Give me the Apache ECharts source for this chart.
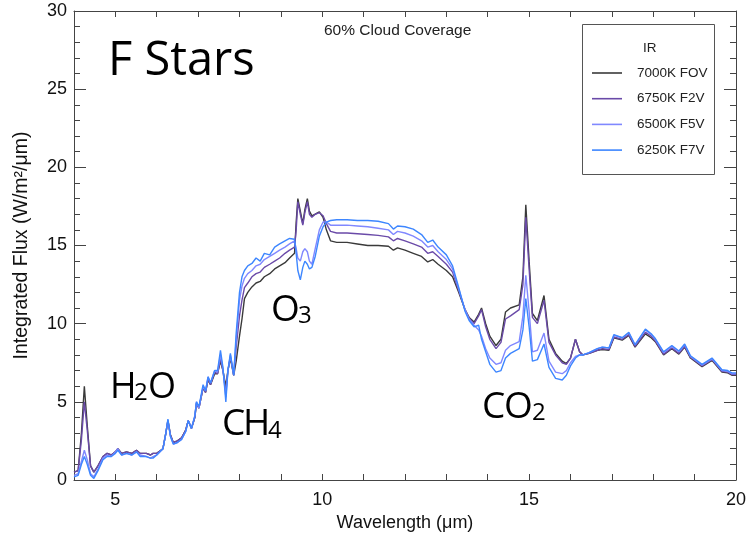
<!DOCTYPE html>
<html><head><meta charset="utf-8">
<script src="https://cdn.jsdelivr.net/npm/echarts@6/dist/echarts.min.js"></script>
<style>html,body{margin:0;padding:0;background:#fff}#c{width:749px;height:541px}</style>
</head><body><div id="c"></div>
<script>
// Wavelength (μm)
const wavelength = [
 4.00,4.10,4.18,4.25,4.32,4.40,4.48,4.58,4.70,4.80,
 4.90,5.00,5.06,5.15,5.27,5.40,5.51,5.60,5.75,5.85,
 5.91,6.00,6.15,6.22,6.27,6.33,6.40,6.50,6.60,6.70,
 6.76,6.84,6.92,6.96,7.02,7.12,7.18,7.24,7.30,7.40,
 7.47,7.54,7.60,7.67,7.72,7.78,7.86,7.92,8.00,8.06,
 8.12,8.20,8.30,8.40,8.50,8.60,8.73,8.85,8.97,9.10,
 9.21,9.33,9.37,9.41,9.47,9.53,9.58,9.64,9.69,9.75,
 9.83,9.93,10.02,10.10,10.20,10.35,10.60,10.85,11.10,11.35,
 11.60,11.72,11.82,12.00,12.20,12.40,12.55,12.67,12.80,13.00,
 13.15,13.30,13.45,13.55,13.67,13.78,13.85,13.95,14.05,14.20,
 14.32,14.43,14.55,14.76,14.85,14.92,15.00,15.08,15.20,15.36,
 15.48,15.64,15.80,15.90,16.00,16.12,16.22,16.30,16.45,16.65,
 16.77,16.93,17.05,17.25,17.41,17.56,17.81,17.95,18.05,18.25,
 18.45,18.62,18.76,18.90,19.18,19.42,19.66,19.80,19.90,20.00];
const flux7000 = [
 0.5,0.6,3.0,6.0,3.5,0.9,0.5,0.9,1.5,1.7,
 1.6,1.8,2.0,1.7,1.8,1.7,1.9,1.7,1.7,1.6,
 1.7,1.7,2.0,3.0,3.8,2.9,2.4,2.5,2.7,3.2,
 3.8,3.3,4.0,4.9,4.6,5.9,5.6,6.4,6.1,6.8,
 6.8,7.6,7.0,6.0,7.0,7.8,6.7,7.6,9.2,10.3,
 11.6,12.0,12.35,12.6,12.7,13.0,13.2,13.5,13.7,13.9,
 14.2,14.5,16.5,18.0,17.2,16.4,17.3,18.0,17.2,16.9,
 17.0,17.15,16.8,16.0,15.3,15.2,15.2,15.1,15.0,15.0,
 14.95,14.7,14.85,14.7,14.5,14.3,13.95,14.1,13.8,13.4,
 13.0,12.0,10.9,10.4,10.1,10.6,11.0,10.0,9.2,8.6,
 9.0,10.75,11.0,11.2,13.0,17.6,14.0,10.65,10.2,11.8,
 9.0,8.1,7.6,7.45,7.8,9.0,8.2,8.0,8.1,8.3,
 8.35,8.3,9.1,8.95,9.25,8.5,9.35,9.1,8.85,8.0,
 8.4,8.05,8.5,7.8,7.25,7.65,6.9,6.85,6.7,6.7];
const flux6750 = [
 0.5,0.6,2.6,5.0,3.2,0.9,0.5,0.9,1.5,1.7,
 1.6,1.8,2.0,1.7,1.8,1.7,1.9,1.7,1.7,1.6,
 1.7,1.7,2.0,3.0,3.8,2.9,2.4,2.5,2.7,3.2,
 3.8,3.3,4.0,4.9,4.6,5.9,5.6,6.5,6.1,6.9,
 6.8,7.8,7.0,5.6,7.0,7.9,6.7,8.5,10.5,11.5,
 12.3,12.6,13.0,13.2,13.3,13.6,13.8,14.0,14.2,14.5,
 14.7,14.9,16.0,17.8,17.0,16.3,17.1,17.8,17.0,16.8,
 17.0,17.1,16.9,16.4,15.9,15.8,15.8,15.75,15.7,15.65,
 15.55,15.3,15.45,15.3,15.1,14.9,14.5,14.6,14.3,13.8,
 13.3,12.1,10.9,10.35,10.0,10.5,10.9,9.8,9.0,8.4,
 8.8,10.3,10.5,10.9,12.5,16.8,13.5,10.4,10.0,11.5,
 8.8,8.0,7.5,7.4,7.8,9.0,8.2,8.0,8.1,8.3,
 8.4,8.35,9.15,9.0,9.3,8.55,9.45,9.2,8.9,8.05,
 8.45,8.1,8.55,7.85,7.3,7.7,6.95,6.9,6.75,6.75];
const flux6500 = [
 0.3,0.4,1.2,1.9,1.3,0.4,0.2,0.7,1.4,1.6,
 1.5,1.8,2.0,1.6,1.7,1.6,1.8,1.6,1.5,1.4,
 1.5,1.6,2.0,3.0,3.8,2.8,2.3,2.4,2.6,3.1,
 3.8,3.3,4.1,5.0,4.6,6.0,5.7,6.6,6.2,7.0,
 6.9,8.0,7.1,5.3,7.0,8.0,6.7,9.0,11.5,12.4,
 12.9,13.2,13.4,13.7,13.8,14.1,14.3,14.5,14.7,14.9,
 15.1,15.3,14.8,14.2,14.0,14.6,14.8,14.6,14.0,13.8,
 14.8,16.0,16.5,16.5,16.3,16.3,16.3,16.25,16.2,16.1,
 16.0,15.7,15.9,15.8,15.6,15.3,14.9,15.0,14.6,14.1,
 13.5,12.2,10.9,10.3,9.9,9.6,9.2,8.4,7.8,7.4,
 7.5,8.3,8.6,8.85,10.5,13.1,10.8,8.2,8.3,9.4,
 7.6,6.9,6.8,7.0,7.5,7.9,8.0,8.0,8.15,8.4,
 8.5,8.45,9.25,9.1,9.4,8.65,9.6,9.3,9.0,8.15,
 8.55,8.2,8.65,7.9,7.35,7.75,7.0,6.95,6.8,6.8];
const flux6250 = [
 0.2,0.3,1.0,1.5,1.0,0.3,0.1,0.6,1.3,1.5,
 1.5,1.7,1.9,1.6,1.7,1.6,1.8,1.5,1.5,1.4,
 1.4,1.6,2.0,3.0,3.9,2.8,2.3,2.4,2.6,3.1,
 3.8,3.3,4.1,5.0,4.7,6.1,5.7,6.6,6.2,7.0,
 7.0,8.3,7.2,5.0,7.0,8.1,6.7,9.4,12.0,13.0,
 13.4,13.7,13.85,14.2,14.0,14.5,14.4,14.9,15.1,15.3,
 15.45,15.4,14.5,13.4,12.8,13.6,14.0,13.8,13.5,13.6,
 14.3,15.6,16.2,16.5,16.6,16.65,16.65,16.6,16.6,16.55,
 16.4,16.05,16.25,16.2,16.05,15.7,15.2,15.35,14.9,14.4,
 13.7,12.3,10.8,10.2,9.8,9.9,9.0,8.2,7.4,6.9,
 7.0,7.8,8.1,8.4,9.6,11.6,9.8,7.6,7.7,8.7,
 7.2,6.5,6.4,6.7,7.3,7.8,8.0,8.0,8.15,8.4,
 8.5,8.45,9.3,9.1,9.45,8.65,9.65,9.35,9.05,8.2,
 8.6,8.25,8.7,7.95,7.4,7.8,7.05,7.0,6.85,6.85];

const seriesNames = ['7000K FOV','6750K F2V','6500K F5V','6250K F7V'];
const seriesColors = ['#3a3a3a','#6a4aa8','#8088ff','#3d86ff'];
const seriesValues = [flux7000, flux6750, flux6500, flux6250];
const xTickLabels = [5,10,15,20];

const FONT = "'Liberation Sans', Arial, sans-serif";
const CAL = "'Open Sans', sans-serif";
const axisCol = '#444';

const chart = echarts.init(document.getElementById('c'), null, {renderer:'canvas'});

function txt(text, x, y, size){
  return {type:'text', x:x, y:y, z:100, style:{text:text, font: size+'px '+CAL, fill:'#000', verticalAlign:'middle', textAlign:'left'}};
}

const option = {
  animation:false,
  backgroundColor:'#fff',
  title:{text:'60% Cloud Coverage', left:319, top:18, textStyle:{fontFamily:FONT, fontSize:15.5, fontWeight:'normal', color:'#222'}},
  legend:{
    data: seriesNames.map(n => ({name:n, icon:'rect'})), orient:'vertical', left:592, top:66, padding:0,
    itemWidth:30, itemHeight:1.6, itemGap:11.7,
    textStyle:{fontFamily:FONT, fontSize:13.5, color:'#222', padding:[0,0,0,10], lineHeight:14, height:14}
  },
  grid:{left:74, right:12, top:11, bottom:61},
  xAxis:[{
    type:'value', min:4, max:20, interval:1, position:'bottom',
    name:'Wavelength (μm)', nameLocation:'middle', nameGap:33,
    nameTextStyle:{fontFamily:FONT, fontSize:18, color:'#111'},
    axisLine:{show:true, onZero:false, lineStyle:{color:axisCol, width:1}},
    axisTick:{show:true, inside:true, length:6, lineStyle:{color:axisCol}},
    axisLabel:{margin:11, fontFamily:FONT, fontSize:18, color:'#111',
      formatter:v => xTickLabels.includes(v) ? String(v) : ''},
    splitLine:{show:false}
  },{
    type:'value', min:4, max:20, interval:1, position:'top',
    axisLine:{show:true, onZero:false, lineStyle:{color:axisCol, width:1}},
    axisTick:{show:true, inside:true, length:6, lineStyle:{color:axisCol}},
    axisLabel:{show:false}, splitLine:{show:false}
  }],
  yAxis:[{
    type:'value', min:0, max:30, interval:5, position:'left',
    name:'Integrated Flux (W/m²/μm)', nameLocation:'middle', nameGap:42,
    nameTextStyle:{fontFamily:FONT, fontSize:19.5, color:'#111'},
    axisLine:{show:true, onZero:false, lineStyle:{color:axisCol, width:1}},
    axisTick:{show:true, inside:true, length:12, lineStyle:{color:axisCol}},
    minorTick:{show:true, splitNumber:5, length:6, lineStyle:{color:axisCol}},
    axisLabel:{margin:7, fontFamily:FONT, fontSize:18, color:'#111'},
    splitLine:{show:false}, minorSplitLine:{show:false}
  },{
    type:'value', min:0, max:30, interval:5, position:'right',
    axisLine:{show:true, onZero:false, lineStyle:{color:axisCol, width:1}},
    axisTick:{show:true, inside:true, length:12, lineStyle:{color:axisCol}},
    minorTick:{show:true, splitNumber:5, length:6, lineStyle:{color:axisCol}},
    axisLabel:{show:false}, splitLine:{show:false}
  }],
  series: seriesNames.map((n,i) => ({
    name:n, type:'line', xAxisIndex:0, yAxisIndex:0,
    symbol:'none', showSymbol:false, smooth:false,
    color: seriesColors[i],
    lineStyle:{color:seriesColors[i], width:1.4},
    z: 2+i,
    data: wavelength.map((x,j) => [x, seriesValues[i][j]])
  })),
  graphic:[
    {type:'rect', z:1, shape:{x:582.5, y:24.5, width:132, height:150}, style:{fill:'none', stroke:'#555', lineWidth:1}},
    {type:'text', z:100, x:643, y:48, style:{text:'IR', font:'13.5px '+FONT, fill:'#222', verticalAlign:'middle'}},
    txt('F Stars', 108, 62, 47),
    txt('H', 110, 388, 36), txt('2', 134, 393, 24), txt('O', 148, 388, 36),
    txt('C', 222, 424, 37), txt('H', 243, 424, 37), txt('4', 268, 431, 24),
    txt('O', 271, 310, 37), txt('3', 298, 316, 24),
    txt('C', 482, 407, 37), txt('O', 504, 407, 37), txt('2', 532, 413, 24)
  ]
};
chart.setOption(option);
</script></body></html>
